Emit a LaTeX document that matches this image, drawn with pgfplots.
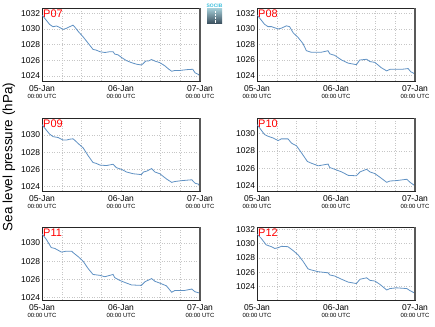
\documentclass[border=0pt]{standalone}
\usepackage{fontspec}
\setmainfont{Liberation Sans}
\usepackage{pgfplots}
\pgfplotsset{compat=1.18}
\definecolor{lineblue}{RGB}{95,145,195}
\newcommand\tl[1]{#1-Jan\\[-1.5pt]{\fontsize{6}{7}\selectfont 00:00 UTC}}
\pgfplotsset{
  panel/.style={
    width=158bp, height=73bp, scale only axis,
    anchor=north west,
    xmin=0, xmax=48,
    xtick={0,24,48},
    xticklabels={\tl{05},\tl{06},\tl{07}},
    minor xtick={6,12,18,30,36,42},
    ytick={1024,1026,1028,1030,1032},
    /pgf/number format/1000 sep={},
    /pgf/number format/assume math mode=true,
    xticklabel style={align=center, font=\fontsize{8.5}{9}\selectfont, yshift=-1pt},
    yticklabel style={font=\fontsize{8.5}{9}\selectfont, xshift=1.5pt},
    grid=both,
    major grid style={dash pattern=on 0.7pt off 1.8pt, gray!45, line width=0.45pt},
    minor grid style={dash pattern=on 0.7pt off 1.8pt, gray!45, line width=0.45pt},
    tick style={draw=none},
    axis line style={black!85, line width=0.8pt},
    no markers,
    every axis plot post/.append style={lineblue, line width=0.8pt, mark=none},
    after end axis/.code={\draw[black!65, line width=1.6pt] (rel axis cs:1,0) -- (rel axis cs:1,1);},
  },
}
\tikzset{lab/.style={red, font=\fontsize{11}{12}\selectfont, anchor=north west, inner sep=0pt}}
\begin{document}
\begin{tikzpicture}
\path[use as bounding box] (0bp,0bp) rectangle (435bp,327bp);
% P07
\begin{axis}[panel, at={(42bp,319bp)}, ymin=1023.35, ymax=1032.7]
\addplot coordinates {(0,1031.8)(0.8,1031.4)(2.3,1030.6)(3.35,1030.3)(4.4,1030.4)(5.4,1030.2)(6.4,1029.95)(7.4,1030.1)(8.4,1030.3)(9.4,1030.5)(9.9,1030.3)(11,1029.7)(12.5,1029.0)(14,1028.2)(15.5,1027.4)(16.5,1027.3)(17.6,1027.1)(19.1,1027.0)(20.6,1027.1)(21.6,1027.1)(22.1,1026.8)(23.1,1026.7)(24.2,1026.35)(25.7,1025.95)(27.2,1025.7)(28.7,1025.5)(30.2,1025.4)(30.8,1025.6)(31.5,1025.9)(32.3,1025.9)(33.3,1026.1)(34.3,1025.9)(35.8,1025.7)(37.3,1025.3)(38.4,1024.9)(39.4,1024.6)(40.4,1024.7)(41.9,1024.7)(43.9,1024.8)(45.8,1024.85)(46.5,1024.4)(47.5,1024.2)(48,1024.0)};
\node[lab] at (rel axis cs:0,1) [xshift=1bp,yshift=-1.3bp] {P07};
\end{axis}
% P08
\begin{axis}[panel, at={(257bp,319bp)}, ymin=1023.3, ymax=1032.7]
\addplot coordinates {(0,1031.8)(0.8,1031.4)(2.3,1030.6)(3.35,1030.3)(4.4,1030.3)(6.4,1030.0)(7.4,1030.1)(8.9,1030.4)(9.9,1030.3)(11,1029.5)(12.5,1028.9)(14,1028.1)(15.0,1027.2)(16.5,1027.0)(19.5,1027.0)(21.6,1027.2)(22.1,1026.8)(23.6,1026.6)(25.7,1026.0)(27.7,1025.6)(30.2,1025.4)(31.2,1026.0)(33.3,1026.1)(34.3,1025.8)(35.8,1025.7)(37.8,1025.0)(39.4,1024.6)(40.4,1024.8)(43.9,1024.8)(45.9,1024.9)(46.7,1024.5)(48,1024.2)};
\node[lab] at (rel axis cs:0,1) [xshift=1bp,yshift=-1.3bp] {P08};
\end{axis}
% P09
\begin{axis}[panel, at={(42bp,209bp)}, ymin=1023.5, ymax=1031.96]
\addplot coordinates {(0,1031.2)(0.8,1030.8)(2.3,1030.1)(3.35,1029.8)(4.9,1029.7)(6.4,1029.4)(7.4,1029.4)(8.4,1029.5)(9.4,1029.55)(9.9,1029.4)(11,1029.0)(12.5,1028.5)(14,1027.6)(15.5,1026.8)(16.5,1026.7)(17.6,1026.5)(19.6,1026.45)(21.6,1026.6)(22.6,1026.2)(24.2,1026.0)(25.7,1025.7)(27.7,1025.5)(30.2,1025.4)(30.8,1025.7)(31.8,1025.8)(33.3,1026.1)(34.3,1025.7)(35.8,1025.5)(37.8,1024.9)(39.4,1024.5)(40.4,1024.6)(42.4,1024.7)(45.5,1024.8)(46.5,1024.4)(47.5,1024.3)(48,1024.0)};
\node[lab] at (rel axis cs:0,1) [xshift=1bp,yshift=-1.3bp] {P09};
\end{axis}
% P10
\begin{axis}[panel, at={(257bp,209bp)}, ymin=1023.4, ymax=1031.8]
\addplot coordinates {(0,1031.05)(2.3,1029.9)(3.35,1029.7)(4.9,1029.5)(6.4,1029.2)(7.4,1029.4)(9.4,1029.4)(10.5,1028.9)(12,1028.6)(13.5,1027.8)(15.3,1026.8)(16.5,1026.6)(18.6,1026.3)(20.1,1026.4)(21.6,1026.5)(22.1,1026.1)(23.6,1025.9)(25.7,1025.6)(27.7,1025.2)(30.2,1025.15)(31.3,1025.6)(33.3,1025.9)(34.3,1025.6)(35.8,1025.4)(37.3,1025.0)(39.4,1024.4)(40.4,1024.55)(42.4,1024.6)(45.5,1024.75)(46.5,1024.4)(48,1024.0)};
\node[lab] at (rel axis cs:0,1) [xshift=1bp,yshift=-1.3bp] {P10};
\end{axis}
% P11
\begin{axis}[panel, at={(42bp,100bp)}, ymin=1023.75, ymax=1031.75]
\addplot coordinates {(0,1031.0)(1.3,1030.4)(2.8,1029.5)(3.9,1029.4)(5.9,1029.0)(7.4,1029.1)(9.0,1029.1)(9.6,1028.9)(11,1028.5)(12.5,1028.0)(14,1027.2)(15.5,1026.55)(17.6,1026.45)(19.1,1026.3)(21.6,1026.55)(22.1,1026.2)(23.6,1025.9)(25.7,1025.6)(27.2,1025.4)(30.2,1025.35)(31.3,1025.75)(33.3,1026.1)(34.3,1025.8)(35.8,1025.6)(37.8,1025.3)(39.4,1024.6)(40.4,1024.8)(41.9,1024.8)(43.4,1024.8)(45.5,1024.95)(46.5,1024.65)(48,1024.5)};
\node[lab] at (rel axis cs:0,1) [xshift=1bp,yshift=-1.3bp] {P11};
\end{axis}
% P12
\begin{axis}[panel, at={(257bp,100bp)}, ymin=1022.1, ymax=1032.3]
\addplot coordinates {(0,1031.3)(1.3,1030.7)(2.8,1029.8)(4.4,1029.55)(5.4,1029.3)(6.4,1029.4)(7.4,1029.6)(9.4,1029.55)(11,1029.0)(12.5,1028.4)(14,1027.5)(15.5,1026.45)(16.5,1026.3)(18.6,1026.05)(21.6,1025.9)(22.1,1025.6)(23.6,1025.45)(25.7,1025.0)(27.7,1024.6)(30.2,1024.4)(31.3,1025.0)(33.3,1025.2)(34.3,1024.85)(35.8,1024.75)(37.3,1024.3)(39.4,1023.5)(40.4,1023.7)(42.4,1023.8)(45.5,1023.7)(46.5,1023.4)(48,1023.05)};
\node[lab] at (rel axis cs:0,1) [xshift=1bp,yshift=-1.3bp] {P12};
\end{axis}
% y label
\node[rotate=90, font=\fontsize{13.5}{14}\selectfont] at (9bp,170bp) {Sea level pressure (hPa)};
% logo
\shade[top color={rgb,255:red,160;green,200;blue,210}, bottom color={rgb,255:red,55;green,75;blue,90}] (207bp,303bp) rectangle (222bp,318bp);
\draw[white, densely dotted, line width=0.5pt] (215.5bp,304bp) -- (215.5bp,316bp);
\node[text={rgb,255:red,60;green,190;blue,220}, font=\fontsize{5}{5}\selectfont\bfseries, inner sep=0pt] at (214.5bp,321.5bp) {SOCIB};
\end{tikzpicture}
\end{document}
